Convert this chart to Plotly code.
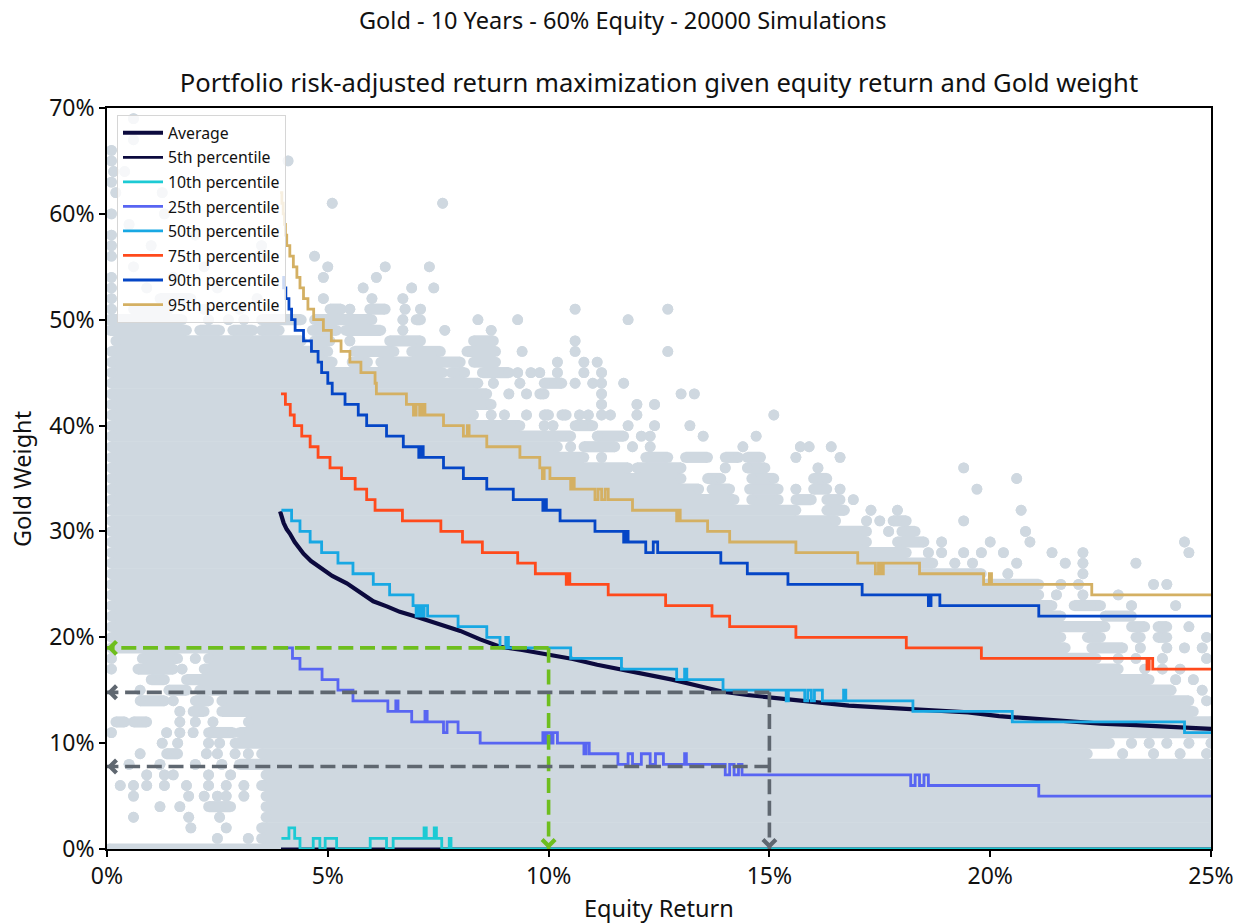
import plotly.graph_objects as go

# ---------------- data ----------------
suptitle = "Gold - 10 Years - 60% Equity - 20000 Simulations"
title = "Portfolio risk-adjusted return maximization given equity return and Gold weight"
x_label = "Equity Return"
y_label = "Gold Weight"
x_ticks = [0, 5, 10, 15, 20, 25]
y_ticks = [0, 10, 20, 30, 40, 50, 60, 70]

# Simulation cloud: for each Gold weight level (%), runs (a, b) of equity return (%) covered by points;
# a lone number is a single point
cloud_rows = [
    (0, [(0.05, 25)]),
    (1, [2.5, 3.2, (3.5, 25)]),
    (2, [1.9, 2.7, (3.5, 25)]),
    (3, [0.6, 1.85, 2.55, (3.6, 25)]),
    (4, [1.2, 1.65, (2.3, 2.8), (3.6, 25)]),
    (5, [0.6, 1.85, 2.2, 2.5, 2.7, 3.1, (3.6, 25)]),
    (6, [0.3, 0.6, 0.9, 1.3, 1.8, 2.3, 2.7, 3.1, (3.5, 25)]),
    (7, [0.9, 1.3, 1.5, 2.3, 2.8, (3.6, 25)]),
    (8, [0.5, 1.2, 2.0, 2.6, (3.0, 25)]),
    (9, [0.75, (1.35, 1.6), 2.25, 2.5, 2.9, 3.2, (3.5, 22.2), 23.0, 23.7, 24.3, 24.9]),
    (10, [1.25, 1.6, 2.3, 2.55, (2.9, 22.7), 23.2, 23.6, 24.0, 24.5, 25.0]),
    (11, [0.1, 1.35, 1.65, 1.95, (2.3, 2.85), (3.0, 25)]),
    (12, [(0.2, 0.4), (0.6, 0.9), 1.65, 2.0, 2.4, (3.2, 25)]),
    (13, [1.65, (1.95, 2.2), (2.6, 24.6)]),
    (14, [(0.75, 1.3), 1.5, (2.0, 2.3), (2.6, 24.5), 24.9]),
    (15, [0.75, (1.4, 1.8), (2.1, 24.1), 24.8]),
    (16, [(1.0, 1.3), (1.8, 23.6), 24.2, 24.6]),
    (17, [0.1, (0.7, 1.5), 1.7, (2.2, 22.9), 23.5, 23.9, 24.3]),
    (18, [0.1, (0.8, 1.6), 2.0, (2.3, 22.4), 22.9, 23.3, 23.9, 24.9]),
    (19, [(0.1, 21.7), (22.3, 23.0), 23.4, 24.0, 24.4, 24.8]),
    (20, [(0.1, 21.6), (22.2, 22.5), (23.3, 23.4), (23.8, 24.0), 24.9]),
    (21, [(0.1, 22.6), (23.2, 23.5), (23.8, 24.0), 24.5]),
    (22, [(0.1, 21.6), (22.6, 23.2)]),
    (23, [(0.1, 21.4), (21.9, 22.5), 23.2, 24.2]),
    (24, [(0.1, 21.1), 21.5, 22.1, 22.9]),
    (25, [(0.1, 21.1), 21.6, 22.0, 23.7, 24.0]),
    (26, [(0.1, 19.8), 20.4, 22.1]),
    (27, [(0.1, 18.7), 19.2, 19.6, 20.6, 21.7, 22.1, 23.3]),
    (28, [(0.1, 18.1), 18.6, 18.9, 19.4, 19.8, 20.3, 21.4, 22.1, 24.5]),
    (29, [(0.1, 17.2), (17.9, 18.5), 18.9, 20.0, 20.9, 24.4]),
    (30, [(0.1, 17.2), 17.7, (18.0, 18.3), 20.8]),
    (31, [(0.1, 16.5), 17.2, 17.5, (17.8, 18.1), 19.4]),
    (32, [(0.1, 15.6), (16.3, 16.7), 17.3, 17.9, 20.7]),
    (33, [(0.1, 14.2), (14.6, 15.2), (15.6, 15.95), (16.3, 16.6), 16.9]),
    (34, [(0.1, 13.4), (13.7, 14.1), (14.55, 15.2), 15.6, (16.0, 16.3), 16.6, 19.7]),
    (35, [(0.1, 13.0), (13.6, 13.9), (14.6, 15.1), (16.0, 16.3), 20.6]),
    (36, [(0.1, 11.8), (12.0, 13.0), 14.0, (14.5, 14.9), 16.1, 19.4]),
    (37, [(0.1, 10.8), 11.2, (12.2, 12.7), (13.1, 13.6), (14.0, 14.3), (14.5, 14.8), 15.6, 16.6]),
    (38, [(0.1, 10.2), 10.5, (10.8, 11.5), 11.9, 12.3, 14.4, 15.7, 15.9, 16.4]),
    (39, [(0.1, 10.5), (11.1, 11.7), 12.1, 12.3, 13.5, 14.7]),
    (40, [(0.1, 9.35), 9.9, 10.1, (10.6, 11.0), 11.8, 12.4, 13.2]),
    (41, [(0.1, 8.3), 8.7, 9.0, 9.5, (9.9, 10.0), (10.3, 10.4), 10.7, 10.9, 11.2, 11.4, 12.0, 15.1]),
    (42, [(0.1, 8.7), 11.2, 12.0, 12.4]),
    (43, [(0.1, 8.6), 9.1, 9.5, (9.8, 9.9), 11.2, 13.0, 13.3]),
    (44, [(0.1, 8.4), 8.75, 9.35, (9.9, 10.3), 10.6, 11.0, 11.2, 11.7]),
    (45, [(0.1, 7.6), (7.8, 8.1), (8.5, 9.1), 9.3, 9.6, 9.8, 10.2, 10.8, 11.2]),
    (46, [(0.1, 5.1), (5.55, 5.9), (6.2, 8.0), (8.3, 8.8), 10.2, 10.8, 11.1]),
    (47, [(0.1, 5.0), (5.6, 6.5), (6.9, 7.55), (8.15, 8.8), 9.4, 10.6, 12.7]),
    (48, [(0.2, 4.4), (4.7, 5.05), 5.5, (6.4, 7.1), (8.3, 8.75), 10.6]),
    (49, [(0.07, 1.8), (2.1, 2.55), (2.85, 3.3), (3.5, 3.9), (4.65, 5.2), (5.4, 6.2), 6.7, 7.65, 8.7]),
    (50, [(0.05, 1.7), 2.3, 2.75, 3.1, (3.5, 4.4), (4.7, 6.0), 6.7, (7.0, 7.1), 8.4, 9.3, 11.8]),
    (51, [0.1, (0.6, 1.4), 2.2, 3.0, (5.05, 5.3), 5.5, (5.95, 6.3), 6.75, 7.1, 10.6, 12.7]),
    (52, [0.1, (1.2, 1.9), 3.4, 4.9, 6.0, 6.7]),
    (53, [0.1, 0.9, 2.5, 5.8, 6.9, 7.4]),
    (54, [0.1, 1.5, 4.9, 6.1]),
    (55, [0.6, 2.2, 5.0, 6.3, 7.3]),
    (56, [0.1, 3.5, 4.7]),
    (57, [0.1, 1.0, 3.5]),
    (58, [0.1, 2.0]),
    (59, [0.5]),
    (60, [0.1, 1.3]),
    (61, [5.1, 7.6]),
    (62, [0.2, 1.25]),
    (63, [0.1]),
    (64, [0.15, 0.4]),
    (65, [0.1, 4.1]),
    (66, [0.1]),
    (67, [0.6]),
    (69, [0.6]),
]

# Average optimal Gold weight vs equity return
avg_x = [3.92, 3.96, 4.0, 4.07, 4.14, 4.25, 4.45, 4.62, 4.82, 5.1, 5.43, 5.75, 6.03, 6.35, 6.63, 6.95,
         7.24, 7.6, 8.0, 8.45, 8.9, 9.4, 10.0, 10.55, 11.1, 11.7, 12.25, 12.8, 13.4, 13.95, 14.5, 15.1,
         15.6, 16.2, 16.8, 17.35, 18.0, 18.6, 19.5, 20.2, 21.0, 21.8, 22.5, 23.3, 24.2, 25.0]
avg_y = [31.9, 31.3, 30.8, 30.2, 29.8, 29.0, 27.9, 27.2, 26.6, 25.8, 25.1, 24.2, 23.4, 22.9, 22.4, 22.0,
         21.6, 21.2, 20.6, 19.8, 19.1, 18.8, 18.4, 17.95, 17.4, 16.9, 16.5, 16.0, 15.4, 14.85, 14.55, 14.25,
         14.05, 13.8, 13.55, 13.4, 13.25, 13.1, 12.9, 12.55, 12.3, 12.0, 11.85, 11.7, 11.55, 11.35]

# Percentile step curves: (equity return where level starts, Gold weight level)
p5 = [(3.94, 0), (25.0, 0)]
p10 = [(3.95, 1), (4.12, 2), (4.25, 1), (4.37, 0), (4.67, 1), (4.82, 0), (4.94, 1), (5.2, 0), (5.96, 1),
       (6.33, 0), (6.48, 1), (7.18, 2), (7.23, 1), (7.41, 2), (7.46, 1), (7.58, 0), (7.75, 1), (7.79, 0),
       (25.0, 0)]
p25 = [(3.92, 19), (4.20, 18), (4.37, 17), (4.87, 16), (5.23, 15), (5.57, 14), (6.36, 13), (6.54, 14),
       (6.59, 13), (6.90, 12), (7.20, 13), (7.25, 12), (7.62, 11), (7.70, 12), (7.95, 11), (8.45, 10),
       (9.87, 11), (9.92, 10), (9.97, 11), (10.05, 10), (10.10, 11), (10.2, 10), (10.80, 9), (10.85, 10),
       (10.92, 9), (11.57, 8), (11.80, 9), (11.90, 8), (12.10, 9), (12.30, 8), (12.42, 9), (12.60, 8),
       (13.08, 9), (13.12, 8), (14.00, 7), (14.1, 8), (14.2, 7), (14.3, 8), (14.38, 7), (18.20, 6),
       (18.3, 7), (18.4, 6), (18.5, 7), (18.6, 6), (21.10, 5), (25.0, 5)]
p50 = [(3.95, 32), (4.18, 31), (4.37, 30), (4.60, 29), (4.86, 28), (5.23, 27), (5.57, 26), (6.03, 25),
       (6.40, 24), (6.93, 23), (7.00, 22), (7.06, 23), (7.12, 22), (7.18, 23), (7.26, 22), (7.95, 21),
       (8.60, 20), (8.90, 19), (9.03, 20), (9.09, 19), (10.50, 18), (11.65, 17), (12.90, 16), (13.08, 17),
       (13.13, 16), (13.95, 15), (15.38, 14), (15.43, 15), (15.80, 14), (15.87, 15), (15.95, 14),
       (16.02, 15), (16.20, 14), (16.68, 15), (16.73, 14), (18.25, 13), (20.50, 12), (24.40, 11), (25.0, 11)]
p75 = [(3.94, 43), (4.04, 42), (4.15, 41), (4.24, 40), (4.41, 39), (4.60, 38), (4.78, 37), (5.05, 36),
       (5.31, 35), (5.62, 34), (5.88, 33), (6.07, 32), (6.69, 31), (7.56, 30), (8.05, 29), (8.50, 28),
       (9.30, 27), (9.70, 26), (10.40, 25), (10.44, 26), (10.48, 25), (11.35, 24), (12.65, 23),
       (13.70, 22), (14.10, 21), (15.60, 20), (18.10, 19), (19.80, 18), (23.55, 17), (23.6, 18),
       (23.68, 17), (25.0, 17)]
p90 = [(3.97, 54), (4.00, 53), (4.05, 52), (4.12, 51), (4.18, 50), (4.26, 49), (4.45, 48), (4.63, 47),
       (4.78, 46), (4.86, 45), (5.00, 44), (5.10, 43), (5.39, 42), (5.69, 41), (5.88, 40), (6.33, 39),
       (6.71, 38), (7.06, 37), (7.10, 38), (7.16, 37), (7.62, 36), (8.07, 35), (8.60, 34), (9.20, 33),
       (9.87, 32), (9.91, 33), (9.95, 32), (10.26, 31), (11.05, 30), (11.70, 29), (11.75, 30),
       (11.80, 29), (12.20, 28), (12.37, 29), (12.47, 28), (13.90, 27), (14.50, 26), (15.42, 25),
       (17.10, 24), (18.60, 23), (18.66, 24), (18.86, 23), (21.10, 22), (25.0, 22)]
p95 = [(3.92, 62), (3.96, 61), (3.99, 60), (4.02, 59), (4.04, 58), (4.07, 57), (4.14, 56), (4.22, 55),
       (4.30, 54), (4.37, 53), (4.45, 52), (4.55, 51), (4.68, 50), (4.90, 49), (5.08, 48), (5.30, 47),
       (5.50, 46), (5.75, 45), (6.07, 44), (6.10, 43), (6.78, 42), (6.94, 41), (7.00, 42), (7.08, 41),
       (7.14, 42), (7.20, 41), (7.62, 40), (8.07, 39), (8.16, 40), (8.20, 39), (8.60, 38), (9.35, 37),
       (9.80, 36), (9.86, 35), (9.90, 36), (10.03, 35), (10.50, 34), (10.54, 35), (10.58, 34),
       (11.05, 33), (11.12, 34), (11.20, 33), (11.28, 34), (11.35, 33), (11.90, 32), (12.90, 31),
       (12.94, 32), (12.98, 31), (13.60, 30), (14.10, 29), (15.60, 28), (17.00, 27), (17.40, 26),
       (17.47, 27), (17.52, 26), (17.58, 27), (18.40, 26), (19.85, 25), (19.98, 26), (20.03, 25),
       (22.30, 24), (25.0, 24)]

series = [
    ("5th percentile", p5, "#0c0a3e"),
    ("10th percentile", p10, "#1ccad4"),
    ("25th percentile", p25, "#5865f2"),
    ("50th percentile", p50, "#18a8e3"),
    ("75th percentile", p75, "#ff4a1c"),
    ("90th percentile", p90, "#0546c6"),
    ("95th percentile", p95, "#d4b063"),
]

# Guide arrows: (color, from (x, y), to (x, y))
guides = [
    ("#6ebe1e", (10, 19), (0, 19)),
    ("#6ebe1e", (10, 19), (10, 0)),
    ("#5f6770", (15, 14.8), (0, 14.8)),
    ("#5f6770", (15, 7.8), (0, 7.8)),
    ("#5f6770", (15, 14.8), (15, 0)),
]

FONT = "Noto Sans"
CLOUD = "#cfd8e0"

# plot area geometry (pixels) used to size the arrow heads
PLOT_W, PLOT_H = 1104, 741
X_RANGE, Y_RANGE = (0, 25), (0, 70)
PX_X = PLOT_W / (X_RANGE[1] - X_RANGE[0])
PX_Y = PLOT_H / (Y_RANGE[1] - Y_RANGE[0])

# ---------------- figure ----------------
fig = go.Figure()

cx, cy = [], []
for level, runs in cloud_rows:
    for r in runs:
        a, b = (r, r) if isinstance(r, (int, float)) else r
        cx += [a, b, None]
        cy += [level, level, None]
fig.add_trace(go.Scatter(x=cx, y=cy, mode="lines+markers", showlegend=False, hoverinfo="skip",
                         line=dict(color=CLOUD, width=11.2),
                         marker=dict(color=CLOUD, size=10.8, line=dict(width=0))))

fig.add_trace(go.Scatter(x=avg_x, y=avg_y, mode="lines", name="Average",
                         legendgroup="avg", line=dict(color="#0c0a3e", width=4.2)))

for name, pts, col in series:
    fig.add_trace(go.Scatter(x=[p[0] for p in pts], y=[p[1] for p in pts], mode="lines", name=name,
                             legendgroup=name, line=dict(color=col, width=2.8, shape="hv")))

SHRINK, HEAD = 3.0, 6.5  # pixels
for col, (x0, y0), (x1, y1) in guides:
    fig.add_trace(go.Scatter(x=[x0, x1], y=[y0, y1], mode="lines", showlegend=False, hoverinfo="skip",
                             line=dict(color=col, width=3.6, dash="15px,6.7px")))
    # chevron head at the target, pointing along the guide
    ux = 0 if x1 == x0 else (1 if x1 > x0 else -1)
    uy = 0 if y1 == y0 else (1 if y1 > y0 else -1)
    tx = x1 - ux * SHRINK / PX_X
    ty = y1 - uy * SHRINK / PX_Y
    bx = tx - ux * HEAD / PX_X
    by = ty - uy * HEAD / PX_Y
    if ux != 0:
        hx, hy = [bx, tx, bx], [ty + HEAD / PX_Y, ty, ty - HEAD / PX_Y]
    else:
        hx, hy = [tx - HEAD / PX_X, tx, tx + HEAD / PX_X], [by, ty, by]
    fig.add_trace(go.Scatter(x=hx, y=hy, mode="lines", showlegend=False, hoverinfo="skip",
                             cliponaxis=False, line=dict(color=col, width=4.2)))

annotations = [
    dict(text=suptitle, x=(622 - 107) / 1104, y=(849 - 20) / 741, xref="paper", yref="paper",
         showarrow=False, xanchor="center", yanchor="middle", font=dict(family=FONT, size=23.5, color="#111")),
    dict(text=x_label, x=0.5, y=(849 - 908) / 741, xref="paper", yref="paper",
         showarrow=False, xanchor="center", yanchor="middle", font=dict(family=FONT, size=23.5, color="#111")),
    dict(text=y_label, x=(22 - 107) / 1104, y=(849 - 479) / 741, xref="paper", yref="paper",
         showarrow=False, xanchor="center", yanchor="middle", textangle=-90,
         font=dict(family=FONT, size=23.5, color="#111")),
]

fig.update_layout(
    width=1246, height=924,
    margin=dict(l=107, r=35, t=108, b=75),
    paper_bgcolor="white", plot_bgcolor="white",
    font=dict(family=FONT, color="#111"),
    title=dict(text=title, x=0.5, xref="paper", y=1 - 83 / 924, yref="container",
               xanchor="center", yanchor="middle", font=dict(family=FONT, size=25.6, color="#111")),
    showlegend=True,
    legend=dict(x=(117 - 107) / 1104, y=(849 - 115) / 741, xanchor="left", yanchor="top",
                bgcolor="rgba(255,255,255,0.8)", bordercolor="#d6d6d6", borderwidth=1,
                font=dict(family=FONT, size=15.8, color="#111"), tracegroupgap=1, itemwidth=40),
    annotations=annotations,
    xaxis=dict(range=list(X_RANGE), tickvals=x_ticks, ticktext=[f"{v}%" for v in x_ticks],
               showgrid=False, zeroline=False, showline=True, linecolor="black", linewidth=1.6,
               mirror=True, ticks="outside", ticklen=6, tickwidth=1.5, tickcolor="black",
               tickfont=dict(family=FONT, size=23, color="#111")),
    yaxis=dict(range=list(Y_RANGE), tickvals=y_ticks, ticktext=[f"{v}%" for v in y_ticks],
               showgrid=False, zeroline=False, showline=True, linecolor="black", linewidth=1.6,
               mirror=True, ticks="outside", ticklen=6, tickwidth=1.5, tickcolor="black",
               tickfont=dict(family=FONT, size=23, color="#111")),
)

fig.write_html("out.html", config={"displayModeBar": False},
               post_script="document.body.style.margin='0';")
